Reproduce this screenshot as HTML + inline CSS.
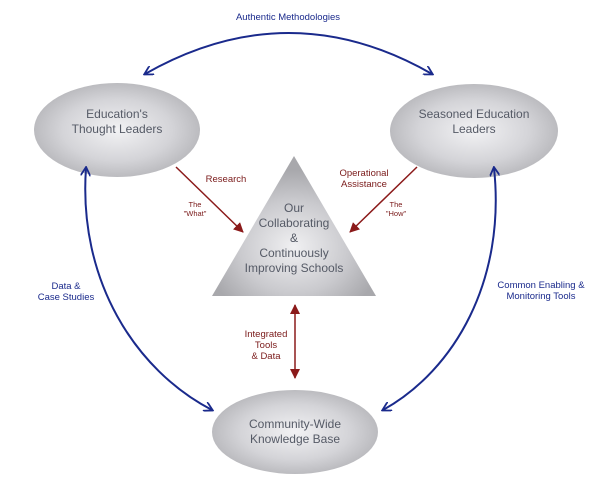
<!DOCTYPE html>
<html><head><meta charset="utf-8"><style>
html,body{margin:0;padding:0;background:#fff;width:600px;height:478px;overflow:hidden}
text{font-family:"Liberation Sans",Arial,sans-serif}
</style></head><body>
<svg width="600" height="478" viewBox="0 0 600 478" xmlns="http://www.w3.org/2000/svg">
<defs>
<radialGradient id="g" cx="50%" cy="50%" r="55%">
<stop offset="0" stop-color="#f2f2f4"/><stop offset="0.6" stop-color="#d4d4d8"/><stop offset="1" stop-color="#b4b4b8"/>
</radialGradient>
<radialGradient id="t" cx="50%" cy="65%" r="55%">
<stop offset="0" stop-color="#f0f0f2"/><stop offset="0.6" stop-color="#cacace"/><stop offset="1" stop-color="#a8a8ac"/>
</radialGradient>
<marker id="ab" markerWidth="10" markerHeight="10" refX="8" refY="5" orient="auto-start-reverse" markerUnits="userSpaceOnUse"><path d="M0,0 L9,5 L0,10" fill="none" stroke="#1a2a8c" stroke-width="1.8"/></marker>
<marker id="ar" markerWidth="10" markerHeight="10" refX="9" refY="5" orient="auto-start-reverse" markerUnits="userSpaceOnUse"><path d="M0,0 L10,5 L0,10 Z" fill="#8b1a1a"/></marker>
</defs>
<ellipse cx="117" cy="130" rx="83" ry="47" fill="url(#g)"/>
<ellipse cx="474" cy="131" rx="84" ry="47" fill="url(#g)"/>
<ellipse cx="295" cy="432" rx="83" ry="42" fill="url(#g)"/>
<polygon points="294,156 212,296 376,296" fill="url(#t)"/>
<g fill="#555a66" font-size="12" text-anchor="middle">
<text x="117" y="118">Education's</text><text x="117" y="133">Thought Leaders</text>
<text x="474" y="118">Seasoned Education</text><text x="474" y="133">Leaders</text>
<text x="295" y="428">Community-Wide</text><text x="295" y="443">Knowledge Base</text>
<text x="294" y="212">Our</text><text x="294" y="227">Collaborating</text><text x="294" y="242">&amp;</text><text x="294" y="257">Continuously</text><text x="294" y="272">Improving Schools</text>
</g>
<g fill="none" stroke="#1a2a8c" stroke-width="2">
<path d="M145,74 Q289,-8 432,74" marker-start="url(#ab)" marker-end="url(#ab)"/>
<path d="M86,168 C78,280 135,370 212,410" marker-start="url(#ab)" marker-end="url(#ab)"/>
<path d="M494,168 C506,280 455,370 383,410" marker-start="url(#ab)" marker-end="url(#ab)"/>
</g>
<g stroke="#8b1a1a" stroke-width="1.5">
<line x1="176" y1="167" x2="243" y2="232" marker-end="url(#ar)"/>
<line x1="417" y1="167" x2="350" y2="232" marker-end="url(#ar)"/>
<line x1="295" y1="305" x2="295" y2="378" marker-start="url(#ar)" marker-end="url(#ar)"/>
</g>
<g fill="#1a2a8c" font-size="9.5" text-anchor="middle">
<text x="288" y="20">Authentic Methodologies</text>
<text x="66" y="289">Data &amp;</text><text x="66" y="300">Case Studies</text>
<text x="541" y="288">Common Enabling &amp;</text><text x="541" y="299">Monitoring Tools</text>
</g>
<g fill="#7a1a1a" font-size="9.5" text-anchor="middle">
<text x="226" y="182">Research</text>
<text x="364" y="176">Operational</text><text x="364" y="187">Assistance</text>
<text x="266" y="337">Integrated</text><text x="266" y="348">Tools</text><text x="266" y="359">&amp; Data</text>
</g>
<g fill="#7a1a1a" font-size="7.5" text-anchor="middle">
<text x="195" y="207">The</text><text x="195" y="216">"What"</text>
<text x="396" y="207">The</text><text x="396" y="216">"How"</text>
</g>
</svg>
</body></html>
